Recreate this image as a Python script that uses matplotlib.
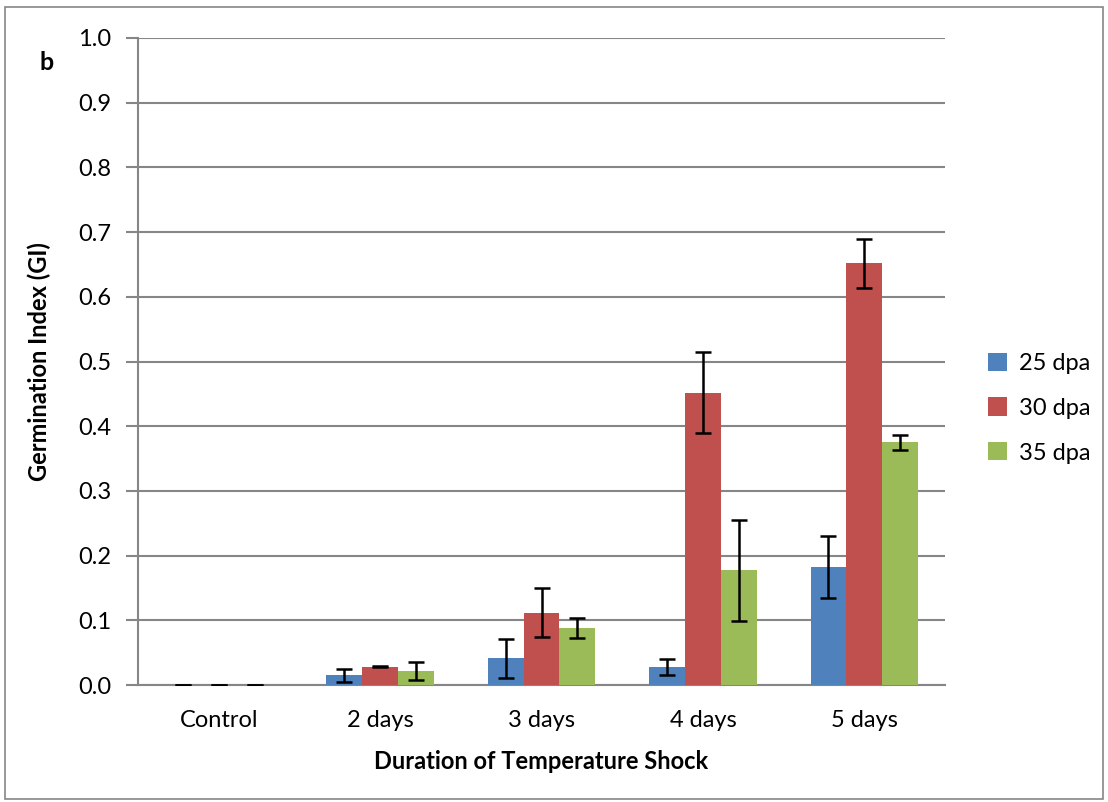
import matplotlib
matplotlib.use("Agg")
import matplotlib.pyplot as plt
import numpy as np
from matplotlib.patches import Rectangle

categories = ["Control", "2 days", "3 days", "4 days", "5 days"]
series_names = ["25 dpa", "30 dpa", "35 dpa"]
gi_25 = [0.0, 0.015, 0.041, 0.028, 0.182]
gi_30 = [0.0, 0.0285, 0.112, 0.452, 0.652]
gi_35 = [0.0, 0.021, 0.088, 0.177, 0.375]
err_25 = [0.0, 0.010, 0.030, 0.012, 0.048]
err_30 = [0.0, 0.001, 0.038, 0.062, 0.038]
err_35 = [0.0, 0.014, 0.016, 0.078, 0.012]
yticks = [0.0, 0.1, 0.2, 0.3, 0.4, 0.5, 0.6, 0.7, 0.8, 0.9, 1.0]

colors = ["#4F81BD", "#C0504D", "#9BBB59"]
values = [gi_25, gi_30, gi_35]
errors = [err_25, err_30, err_35]

plt.rcParams['font.family'] = ['Lato', 'DejaVu Sans']
FS = 17

fig = plt.figure(figsize=(11.08, 8.02), dpi=100)
ax = fig.add_axes([138/1108, 1 - 685/802, (945-138)/1108, (685-38)/802])

x = np.arange(len(categories))
w = 1/4.5
for i, (vals, errs, c, name) in enumerate(zip(values, errors, colors, series_names)):
    pos = x + (i - 1) * w
    ax.bar(pos, vals, width=w, color=c, label=name, zorder=3)
    ax.errorbar(pos, vals, yerr=errs, fmt='none', ecolor='black', elinewidth=1.8,
                capsize=6, capthick=1.8, zorder=4)

ax.set_xlim(-0.5, len(categories) - 0.5)
ax.set_ylim(0, 1.0)
ax.set_yticks(yticks)
ax.set_yticklabels([f"{t:.1f}" for t in yticks], fontsize=FS)
ax.set_xticks(x)
ax.set_xticklabels(categories, fontsize=FS)
ax.tick_params(axis='x', length=0, pad=18)
ax.tick_params(axis='y', length=9, width=1.5, color='#868686', pad=10)
ax.yaxis.grid(True, color='#868686', linewidth=1.5, zorder=0)
for s in ['top', 'right']:
    ax.spines[s].set_visible(False)
for s in ['left', 'bottom']:
    ax.spines[s].set_color('#868686')
    ax.spines[s].set_linewidth(1.5)

ax.set_xlabel("Duration of Temperature Shock", fontsize=FS, fontweight='bold', labelpad=14)
ax.set_ylabel("Germination Index (GI)", fontsize=FS, fontweight='bold', labelpad=20)

fig.text(47/1108, 1 - 62/802, "b", fontsize=FS + 1, fontweight='bold', va='center', ha='center')

leg = ax.legend(loc='center left', bbox_to_anchor=(1.042, 0.428), frameon=False,
                fontsize=FS, handlelength=0.8, handleheight=0.8, labelspacing=1.0,
                handletextpad=0.5, borderaxespad=0)

fig.patches.append(Rectangle((5/1108, 3/802), 1098/1108, 792/802, transform=fig.transFigure,
                             fill=False, edgecolor='#868686', linewidth=1.2))

fig.savefig("out.png", dpi=100)
